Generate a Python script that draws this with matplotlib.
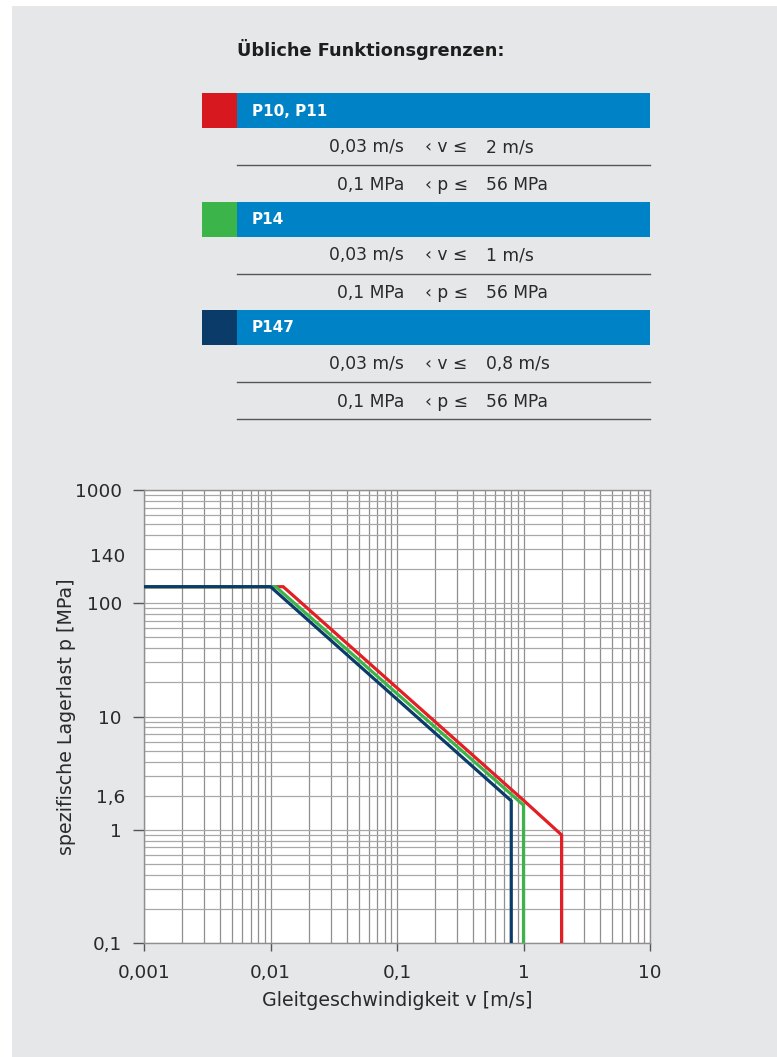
import numpy as np
import matplotlib.pyplot as plt
from matplotlib.patches import Rectangle

plt.rcParams['font.family'] = ['DejaVu Sans']

# table data
groups = ['P10, P11', 'P14', 'P147']
group_colors = ['#d7181f', '#3bb44a', '#0b3b69']
v_low = ['0,03 m/s', '0,03 m/s', '0,03 m/s']
v_high = ['2 m/s', '1 m/s', '0,8 m/s']
p_low = ['0,1 MPa', '0,1 MPa', '0,1 MPa']
p_high = ['56 MPa', '56 MPa', '56 MPa']

# curve data (v in m/s, p in MPa)
red_v = [0.001, 0.0126, 1.0, 2.0, 2.0]
red_p = [140, 140, 1.82, 0.9, 0.1]
green_v = [0.001, 0.011, 1.0, 1.0]
green_p = [140, 140, 1.65, 0.1]
navy_v = [0.001, 0.01, 0.8, 0.8]
navy_p = [140, 140, 1.8, 0.1]

x_ticks = [0.001, 0.01, 0.1, 1, 10]
x_labels = ['0,001', '0,01', '0,1', '1', '10']
y_ticks = [0.1, 1, 10, 100, 1000]
y_labels = ['0,1', '1', '10', '100', '1000']
# extra labels without tick marks (drawn slightly above their values in the original)
y_extra = [1.92, 255]
y_extra_labels = ['1,6', '140']

W, H = 777, 1057
fig = plt.figure(figsize=(W / 100, H / 100), dpi=100, facecolor='white')

# background panel + table, in pixel coordinates
bg = fig.add_axes([0, 0, 1, 1], zorder=0)
bg.set_xlim(0, W)
bg.set_ylim(H, 0)
bg.axis('off')
bg.add_patch(Rectangle((12, 6), W - 12, H - 6, color='#e6e7e9', lw=0))

bg.text(237, 50, 'Übliche Funktionsgrenzen:', fontsize=12.8, fontweight='bold',
        color='#1e1e1e', va='center', ha='left')

blue = '#0082c6'
txt_col = '#2a2a2a'
fs_row = 12.3
for i, g in enumerate(groups):
    top = 93 + i * 108.5
    bg.add_patch(Rectangle((202, top), 35, 35, color=group_colors[i], lw=0))
    bg.add_patch(Rectangle((237, top), 413, 35, color=blue, lw=0))
    bg.text(252, top + 18, g, fontsize=11, fontweight='bold', color='white',
            va='center', ha='left')
    r1 = top + 54
    r2 = top + 92
    bg.text(404, r1, v_low[i], fontsize=fs_row, color=txt_col, va='center', ha='right')
    bg.text(425, r1, '\u2039 v \u2264', fontsize=fs_row, color=txt_col, va='center', ha='left')
    bg.text(486, r1, v_high[i], fontsize=fs_row, color=txt_col, va='center', ha='left')
    bg.plot([237, 650], [top + 72, top + 72], color='#555555', lw=1)
    bg.text(404, r2, p_low[i], fontsize=fs_row, color=txt_col, va='center', ha='right')
    bg.text(425, r2, '\u2039 p \u2264', fontsize=fs_row, color=txt_col, va='center', ha='left')
    bg.text(486, r2, p_high[i], fontsize=fs_row, color=txt_col, va='center', ha='left')
bg.plot([237, 650], [419, 419], color='#555555', lw=1)

# chart
ax = fig.add_axes([144 / W, 1 - 943 / H, 506 / W, 453 / H], zorder=2)
ax.set_facecolor('white')
ax.set_xscale('log')
ax.set_yscale('log')
ax.set_xlim(0.001, 10)
ax.set_ylim(0.1, 1000)

ax.grid(True, which='both', axis='x', color='#8f8f8f', lw=0.9)
ax.grid(True, which='both', axis='y', color='#a8a8a8', lw=0.9)
ax.set_axisbelow(True)

ax.plot(red_v, red_p, color='#e31e24', lw=2.3, solid_joinstyle='miter', zorder=3)
ax.plot(green_v, green_p, color='#3bb44a', lw=2.3, solid_joinstyle='miter', zorder=4)
ax.plot(navy_v, navy_p, color='#0b3b69', lw=2.3, solid_joinstyle='miter', zorder=5)

ax.set_xticks(x_ticks)
ax.set_xticklabels(x_labels)
ax.set_yticks(y_ticks)
ax.set_yticklabels(y_labels)
ax.tick_params(axis='x', which='major', length=6, width=1, color='#555555', pad=9,
               labelsize=13.3, labelcolor='#2a2a2a')
ax.tick_params(axis='y', which='major', length=8, width=1, color='#555555', pad=8,
               labelsize=13.3, labelcolor='#2a2a2a')
ax.tick_params(which='minor', length=0)
ax.yaxis.set_minor_formatter(plt.NullFormatter())
ax.xaxis.set_minor_formatter(plt.NullFormatter())

trans = ax.get_yaxis_transform()
for val, lab in zip(y_extra, y_extra_labels):
    ax.text(-0.0375, val, lab, transform=trans, ha='right', va='center',
            fontsize=13.3, color='#2a2a2a')

for s in ax.spines.values():
    s.set_color('#8f8f8f')
    s.set_linewidth(1)

ax.set_xlabel('Gleitgeschwindigkeit v [m/s]', fontsize=13.7, color='#2a2a2a')
ax.set_ylabel('spezifische Lagerlast p [MPa]', fontsize=13.7, color='#2a2a2a')
ax.xaxis.set_label_coords(0.5, -0.105)
ax.yaxis.set_label_coords(-0.135, 0.5)

fig.savefig('out.png', dpi=100, facecolor='white')
